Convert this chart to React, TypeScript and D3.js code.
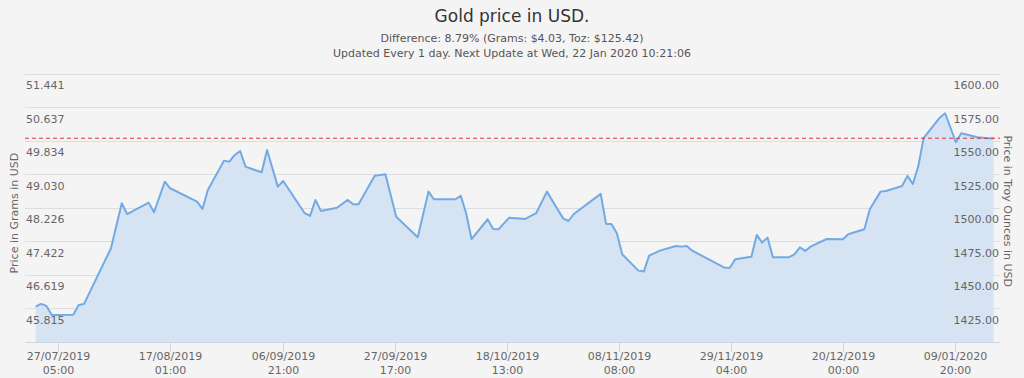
import React from "react";
import * as d3 from "d3";

// ---- Text ----
const title = "Gold price in USD.";
const subtitleLines = [
  "Difference: 8.79% (Grams: $4.03, Toz: $125.42)",
  "Updated Every 1 day. Next Update at Wed, 22 Jan 2020 10:21:06",
];
const leftAxisTitle = "Price in Grams in USD";
const rightAxisTitle = "Price in Troy Ounces in USD";
const GRAMS_PER_TOZ = 31.1035;

// ---- Data (USD per troy ounce) ----
const dates = [
  "2019-07-23", "2019-07-24", "2019-07-25", "2019-07-26", "2019-07-30", "2019-07-31",
  "2019-08-01", "2019-08-06", "2019-08-08", "2019-08-09", "2019-08-13", "2019-08-14",
  "2019-08-16", "2019-08-17", "2019-08-22", "2019-08-23", "2019-08-24", "2019-08-27",
  "2019-08-28", "2019-08-29", "2019-08-30", "2019-08-31", "2019-09-03", "2019-09-04",
  "2019-09-06", "2019-09-07", "2019-09-11", "2019-09-12", "2019-09-13", "2019-09-14",
  "2019-09-17", "2019-09-19", "2019-09-20", "2019-09-21", "2019-09-24", "2019-09-26",
  "2019-09-28", "2019-10-02", "2019-10-04", "2019-10-05", "2019-10-09", "2019-10-10",
  "2019-10-11", "2019-10-12", "2019-10-15", "2019-10-16", "2019-10-17", "2019-10-19",
  "2019-10-22", "2019-10-24", "2019-10-26", "2019-10-29", "2019-10-30", "2019-10-31",
  "2019-11-05", "2019-11-06", "2019-11-07", "2019-11-08", "2019-11-09", "2019-11-12",
  "2019-11-13", "2019-11-14", "2019-11-16", "2019-11-19", "2019-11-20", "2019-11-21",
  "2019-11-22", "2019-11-28", "2019-11-29", "2019-11-30", "2019-12-03", "2019-12-04",
  "2019-12-05", "2019-12-06", "2019-12-07", "2019-12-10", "2019-12-11", "2019-12-12",
  "2019-12-13", "2019-12-14", "2019-12-17", "2019-12-20", "2019-12-21", "2019-12-24",
  "2019-12-25", "2019-12-27", "2019-12-28", "2019-12-31", "2020-01-01", "2020-01-02",
  "2020-01-03", "2020-01-04", "2020-01-07", "2020-01-08", "2020-01-10", "2020-01-11",
  "2020-01-14", "2020-01-16", "2020-01-17",
];
const pricesToz = [
  1426.4, 1428.4, 1426.9, 1420.2, 1420.4, 1427.6,
  1428.4, 1469.9, 1503.4, 1495.4, 1503.9, 1496.7,
  1519.5, 1514.6, 1504.6, 1499.2, 1513.3, 1535.2,
  1534.4, 1539.4, 1542.4, 1530.7, 1526.5, 1543.1,
  1515.8, 1520.0, 1496.0, 1494.0, 1505.9, 1497.7,
  1500.1, 1505.9, 1502.7, 1502.7, 1524.0, 1525.0,
  1493.4, 1478.1, 1512.1, 1506.4, 1506.4, 1508.9,
  1496.0, 1476.6, 1491.5, 1484.3, 1484.0, 1492.7,
  1491.7, 1496.0, 1512.1, 1492.2, 1490.2, 1495.4,
  1510.4, 1488.0, 1488.0, 1481.1, 1465.4, 1453.2,
  1452.5, 1464.4, 1468.1, 1471.6, 1471.1, 1471.6,
  1468.1, 1455.4, 1455.4, 1461.7, 1463.6, 1479.8,
  1474.1, 1477.8, 1463.2, 1463.2, 1465.4, 1470.6,
  1467.9, 1471.1, 1476.8, 1476.6, 1480.3, 1484.0,
  1498.9, 1512.1, 1512.6, 1516.3, 1523.8, 1517.8,
  1530.7, 1551.9, 1567.2, 1570.5, 1548.9, 1555.6,
  1552.6, 1551.9, 1551.9,
];

// ---- Axes ----
const tozTicks = [1425, 1450, 1475, 1500, 1525, 1550, 1575, 1600];
const tozTickLabels = ["1425.00", "1450.00", "1475.00", "1500.00", "1525.00", "1550.00", "1575.00", "1600.00"];
const gramTickLabels = ["45.815", "46.619", "47.422", "48.226", "49.030", "49.834", "50.637", "51.441"];
const tozDomain = [1400, 1600];
const xDomain = ["2019-07-21T00:30:00Z", "2020-01-18T04:45:00Z"];
const xTickDates = [
  "2019-07-27T05:00:00Z", "2019-08-17T01:00:00Z", "2019-09-06T21:00:00Z",
  "2019-09-27T17:00:00Z", "2019-10-18T13:00:00Z", "2019-11-08T08:00:00Z",
  "2019-11-29T04:00:00Z", "2019-12-20T00:00:00Z", "2020-01-09T20:00:00Z",
];
const xTickDateLabels = [
  "27/07/2019", "17/08/2019", "06/09/2019", "27/09/2019", "18/10/2019",
  "08/11/2019", "29/11/2019", "20/12/2019", "09/01/2020",
];
const xTickTimeLabels = ["05:00", "01:00", "21:00", "17:00", "13:00", "08:00", "04:00", "00:00", "20:00"];

const W = 1024;
const H = 378;
const PLOT = { left: 25, right: 1000, top: 73.7, bottom: 342 };
const FONT = "'DejaVu Sans', sans-serif";

export default function App() {
  const data = dates.map((d, i) => ({ date: new Date(d + "T00:00:00Z"), v: pricesToz[i] }));

  const x = d3
    .scaleUtc()
    .domain(xDomain.map((s) => new Date(s)))
    .range([PLOT.left, PLOT.right]);
  const yToz = d3.scaleLinear().domain(tozDomain).range([PLOT.bottom, PLOT.top]);
  const yGram = d3
    .scaleLinear()
    .domain(tozDomain.map((v) => v / GRAMS_PER_TOZ))
    .range([PLOT.bottom, PLOT.top]);

  const area = d3
    .area<{ date: Date; v: number }>()
    .x((d) => x(d.date))
    .y0(PLOT.bottom)
    .y1((d) => yToz(d.v));
  const line = d3
    .line<{ date: Date; v: number }>()
    .x((d) => x(d.date))
    .y((d) => yToz(d.v));

  const current = pricesToz[pricesToz.length - 1];
  const leftMid = (yGram(46.3) + yGram(49.9)) / 2;
  const rightMid = (yToz(1440) + yToz(1555)) / 2;

  return (
    <svg
      width={W}
      height={H}
      style={{ position: "absolute", left: 0, top: 0, background: "#f5f4f4" }}
      fontFamily={FONT}
    >
      <rect x={0} y={0} width={W} height={H} fill="#f5f4f4" />

      {/* Title */}
      <text x={W / 2} y={22} textAnchor="middle" fontSize={17} fill="#333333">
        {title}
      </text>
      {subtitleLines.map((s, i) => (
        <text key={i} x={W / 2} y={42 + i * 15} textAnchor="middle" fontSize={11} fill="#555555">
          {s}
        </text>
      ))}

      {/* Grid */}
      {tozTicks.map((t) => (
        <line
          key={t}
          x1={PLOT.left}
          x2={PLOT.right}
          y1={Math.round(yToz(t)) + 0.5}
          y2={Math.round(yToz(t)) + 0.5}
          stroke="#dddddd"
          strokeWidth={1}
        />
      ))}

      {/* Area + line */}
      <path d={area(data) || ""} fill="#d5e3f3" />
      <path d={line(data) || ""} fill="none" stroke="#72aae4" strokeWidth={2} strokeLinejoin="round" />

      {/* Current price reference */}
      <line
        x1={PLOT.left}
        x2={PLOT.right}
        y1={yToz(current)}
        y2={yToz(current)}
        stroke="#e0323c"
        strokeWidth={1}
        strokeDasharray="4,3"
      />

      {/* Left labels */}
      {gramTickLabels.map((l) => (
        <text key={l} x={26} y={yGram(parseFloat(l)) + 15.5} fontSize={11} fill="#666666">
          {l}
        </text>
      ))}
      {/* Right labels */}
      {tozTicks.map((t, i) => (
        <text key={t} x={999} y={yToz(t) + 15.5} fontSize={11} fill="#666666" textAnchor="end">
          {tozTickLabels[i]}
        </text>
      ))}

      {/* Axis titles */}
      <text
        transform={`translate(17.5,${leftMid}) rotate(-90)`}
        textAnchor="middle"
        fontSize={11}
        fill="#666666"
      >
        {leftAxisTitle}
      </text>
      <text
        transform={`translate(1004,${rightMid}) rotate(90)`}
        textAnchor="middle"
        fontSize={11}
        fill="#666666"
      >
        {rightAxisTitle}
      </text>

      {/* X axis */}
      <line x1={PLOT.left} x2={PLOT.right} y1={PLOT.bottom + 0.5} y2={PLOT.bottom + 0.5} stroke="#ccd6eb" />
      {xTickDates.map((s, i) => {
        const px = Math.round(x(new Date(s))) + 0.5;
        return (
          <g key={s}>
            <line x1={px} x2={px} y1={PLOT.bottom} y2={PLOT.bottom + 10} stroke="#ccd6eb" />
            <text x={px} y={360} textAnchor="middle" fontSize={11} fill="#666666">
              {xTickDateLabels[i]}
            </text>
            <text x={px} y={374} textAnchor="middle" fontSize={11} fill="#666666">
              {xTickTimeLabels[i]}
            </text>
          </g>
        );
      })}
    </svg>
  );
}
